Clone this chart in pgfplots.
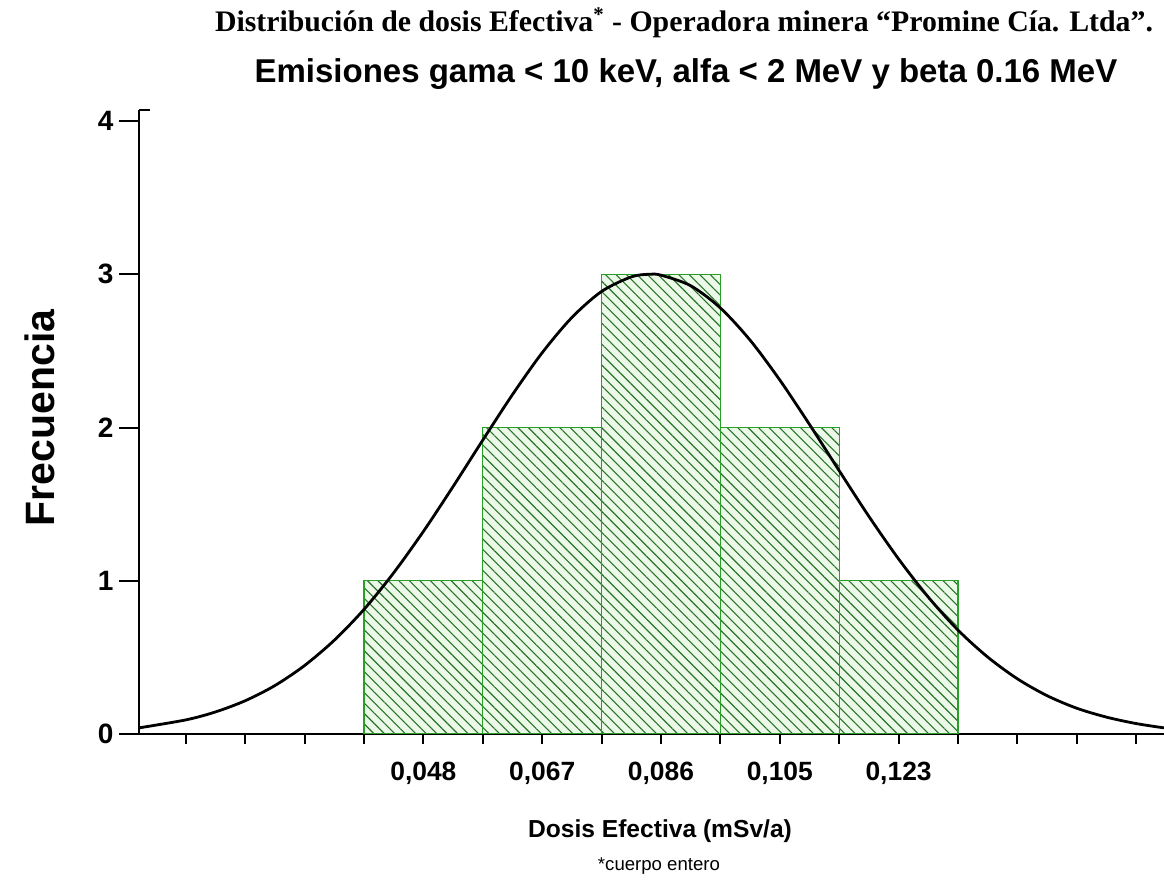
\documentclass[border=0pt]{standalone}
\usepackage{fontspec}
\setmainfont{Liberation Serif}
\setsansfont{Liberation Sans}
\usepackage{pgfplots}
\pgfplotsset{compat=1.18}
\usetikzlibrary{patterns.meta}
\definecolor{edgegreen}{RGB}{40,160,40}
\definecolor{hatchgreen}{RGB}{40,115,40}
\definecolor{fillgreen}{RGB}{236,249,232}
\begin{document}
\begin{tikzpicture}
\useasboundingbox (0,0) rectangle (582pt,441.5pt);
\begin{axis}[
  at={(69.5pt,74.5pt)}, anchor=south west,
  scale only axis, width=512.5pt, height=312pt,
  xmin=-2.394, xmax=6.234, ymin=0, ymax=4.072,
  axis x line=bottom, axis y line=left,
  axis line style={-, line width=1.1pt, black},
  tick style={black, line width=1pt},
  major tick length=5pt, tick align=outside,
  xtick={-2,-1.5,...,6},
  xticklabels={,,,,{0,048},,{0,067},,{0,086},,{0,105},,{0,123},,,,},
  ytick=\empty,
  extra y ticks={0,1,2,3,4}, extra y tick labels={0,1,2,3,4},
  extra y tick style={major tick length=10pt,
    yticklabel style={font=\sffamily\bfseries\fontsize{14}{16}\selectfont, xshift=0.8pt}},
  tick label style={font=\sffamily\bfseries\fontsize{13.2}{15}\selectfont},
  xticklabel style={yshift=-5.5pt},
]
\addplot[ybar interval, draw=edgegreen, line width=0.6pt,
  preaction={fill=fillgreen},
  pattern={Lines[angle=-45,distance=3.7pt,line width=0.55pt]}, pattern color=hatchgreen]
  coordinates {(-0.5,1) (0.5,2) (1.5,3) (2.5,2) (3.5,1) (4.5,1)};
\addplot[black, line width=1.4pt, smooth] coordinates {
(-2.394,0.040) (-2.0,0.092) (-1.75,0.144) (-1.5,0.217) (-1.25,0.316)
(-1.0,0.447) (-0.75,0.612) (-0.5,0.813) (-0.25,1.052) (0,1.322)
(0.25,1.615) (0.5,1.918) (0.75,2.215) (1.0,2.488) (1.25,2.718)
(1.5,2.888) (1.75,2.983) (1.90,3.0) (2.0,2.994) (2.25,2.925)
(2.5,2.780) (2.75,2.570) (3.0,2.310) (3.25,2.020) (3.5,1.718)
(3.75,1.420) (4.0,1.142) (4.25,0.893) (4.5,0.678) (4.75,0.502)
(5.0,0.360) (5.25,0.250) (5.5,0.168) (5.75,0.110) (6.0,0.068) (6.234,0.040)};
\end{axis}
\draw[line width=1.1pt] (69.5pt,386.5pt) -- (75pt,386.5pt);
\node[anchor=base, font=\bfseries\fontsize{14.9}{17}\selectfont] at (342pt,425.5pt)
  {Distribución de dosis Efectiva\textsuperscript{*} - Operadora minera “Promine Cía. Ltda”.};
\node[anchor=base, font=\sffamily\bfseries\fontsize{16.5}{19}\selectfont] at (343pt,400pt)
  {Emisiones gama < 10 keV, alfa < 2 MeV y beta 0.16 MeV};
\node[rotate=90, font=\sffamily\bfseries\fontsize{20.5}{24}\selectfont] at (20pt,232.5pt) {Frecuencia};
\node[anchor=base, font=\sffamily\bfseries\fontsize{12.3}{15}\selectfont] at (330pt,22.5pt) {Dosis Efectiva (mSv/a)};
\node[anchor=base, font=\sffamily\fontsize{9.3}{11}\selectfont] at (329.5pt,6pt) {*cuerpo entero};
\end{tikzpicture}
\end{document}
